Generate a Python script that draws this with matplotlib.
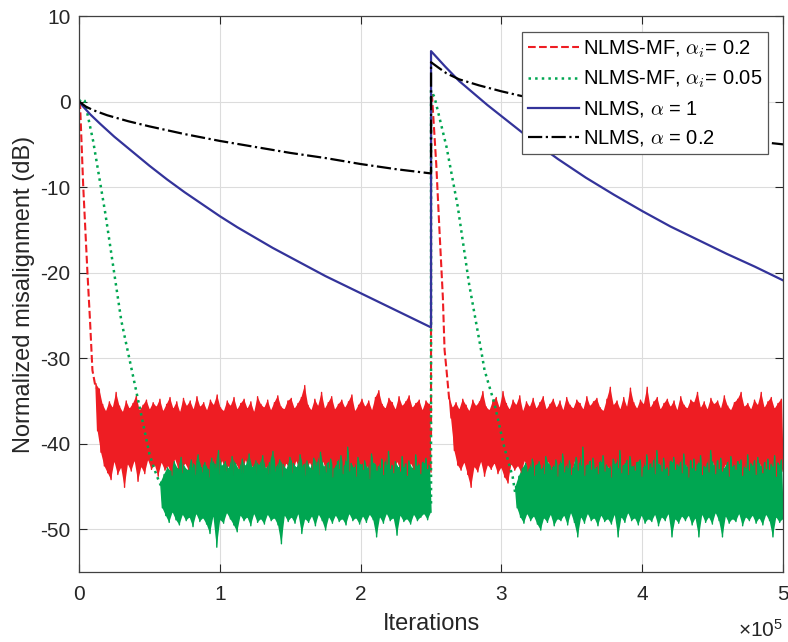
import numpy as np
import matplotlib
matplotlib.use('Agg')
import matplotlib.pyplot as plt

plt.rcParams['font.family'] = ['Liberation Sans', 'DejaVu Sans']
plt.rcParams['mathtext.fontset'] = 'cm'
plt.rcParams['axes.unicode_minus'] = False

# iterations in units of 1e5
# NLMS, alpha = 1 (solid blue)
nlms1_x = [0, 0.03, 0.08, 0.15, 0.25, 0.375, 0.5, 0.625, 0.75, 0.875, 1.0, 1.125,
           1.25, 1.375, 1.5, 1.625, 1.75, 1.875, 2.0, 2.125, 2.25, 2.375, 2.5,
           2.5, 2.55, 2.6, 2.7, 2.8, 2.9, 3.0, 3.2, 3.4, 3.6, 3.8, 4.0, 4.2, 4.4,
           4.6, 4.8, 5.0]
nlms1_y = [0, -0.6, -1.5, -2.6, -4.1, -5.8, -7.5, -9.1, -10.6, -12.0, -13.4, -14.7,
           -15.9, -17.1, -18.2, -19.3, -20.4, -21.4, -22.4, -23.4, -24.4, -25.4, -26.4,
           5.9, 5.0, 4.1, 2.4, 1.0, -0.4, -1.7, -4.3, -6.7, -8.9, -10.9, -12.8, -14.6,
           -16.2, -17.8, -19.3, -20.9]

# NLMS, alpha = 0.2 (black dash-dot)
nlms02_x = [0, 0.05, 0.1, 0.2, 0.35, 0.5, 0.75, 1.0, 1.25, 1.5, 1.75, 2.0, 2.25, 2.5,
            2.5, 2.55, 2.61, 2.7, 2.84, 3.0, 3.13, 3.5, 4.0, 4.5, 4.83, 5.0]
nlms02_y = [0, -0.6, -1.0, -1.6, -2.3, -2.9, -3.8, -4.6, -5.3, -6.0, -6.6, -7.3, -7.9, -8.4,
            4.6, 4.0, 3.3, 2.6, 1.9, 1.2, 0.7, -0.6, -2.2, -3.8, -4.7, -5.0]

# NLMS-MF, alpha_i = 0.2 (red dashed): transients
mf02_t1_x = [0, 0.007, 0.03, 0.06, 0.078, 0.095, 0.113, 0.12]
mf02_t1_y = [0, -0.2, -10.0, -20.1, -25.6, -31.4, -33.0, -33.5]
mf02_t2_x = [2.5, 2.5, 2.506, 2.537, 2.56, 2.584, 2.596, 2.61, 2.63]
mf02_t2_y = [-39.0, 0.9, 0.9, -7.3, -15.1, -22.9, -29.0, -31.4, -35.0]

# red steady-state noise: peaks (hi) and troughs (lo)
mf02_s1_range = (0.12, 2.5)
mf02_s1_hi = [-33.0, -33.6, -35.4, -36.2, -35.1, -35.8, -34.0, -35.6, -36.3, -35.0,
              -35.9, -35.3, -34.4, -36.1, -35.5, -34.9, -36.0, -35.2, -35.7, -34.8,
              -36.2, -35.4, -34.6, -35.9, -35.1, -36.3, -34.7, -35.6, -35.0, -36.0,
              -34.5, -35.7, -35.2, -36.1, -34.9, -35.5, -34.3, -35.8, -36.2, -35.0,
              -35.6, -34.6, -36.0, -35.3, -34.8, -35.9, -35.1, -36.3, -34.5, -35.4,
              -35.8, -34.9, -36.1, -35.2, -34.4, -35.7, -36.0, -35.0, -34.7, -35.9,
              -35.3, -34.6, -33.2, -35.5, -36.1, -34.8, -35.6, -34.0, -35.9, -35.2,
              -34.5, -36.0, -35.4, -34.9, -35.8, -35.1, -34.3, -36.2, -35.5, -34.8,
              -35.7, -35.0, -36.1, -34.6, -33.8, -35.4, -35.9, -34.7, -35.2, -36.0,
              -34.5, -35.6, -35.1, -34.4, -35.8, -35.3, -34.9, -36.1, -35.0, -35.4]
mf02_s1_lo = [-38.5, -41.0, -42.6, -43.4, -44.2, -42.1, -43.6, -42.8, -45.1, -42.4,
              -43.2, -42.0, -44.4, -42.7, -43.5, -41.9, -43.0, -42.5, -43.8, -42.2,
              -43.1, -42.6, -43.7, -41.8, -42.9, -43.4, -42.3, -43.0, -42.7, -43.6,
              -42.1, -43.3, -42.5, -43.9, -42.2, -42.8, -43.5, -42.0, -43.2, -42.6,
              -43.7, -42.3, -42.9, -43.4, -41.9, -43.1, -42.6, -44.0, -42.4, -43.0,
              -42.7, -43.5, -42.1, -43.2, -42.8, -43.8, -42.3, -42.9, -43.4, -42.0,
              -43.1, -42.6, -43.7, -42.2, -43.0, -42.5, -43.6, -42.1, -43.3, -42.8,
              -43.9, -42.4, -42.9, -43.5, -42.0, -43.2, -42.7, -43.8, -42.3, -43.0,
              -42.6, -44.1, -42.2, -43.1, -42.8, -43.6, -42.4, -42.9, -43.4, -42.1,
              -43.2, -42.7, -43.7, -42.3, -43.0, -42.5, -43.5, -42.2, -42.9, -43.3]
mf02_s2_range = (2.63, 5.0)
mf02_s2_hi = [-34.5, -35.8, -35.2, -36.0, -34.8, -35.5, -36.2, -34.9, -35.6, -35.1,
              -33.9, -35.7, -36.1, -35.0, -34.6, -35.8, -33.9, -35.3, -36.0, -34.9,
              -35.5, -34.4, -36.2, -35.1, -35.7, -34.7, -35.9, -35.2, -34.5, -36.0,
              -35.4, -34.8, -35.8, -35.0, -36.1, -34.6, -35.5, -35.9, -34.9, -35.3,
              -36.0, -34.5, -35.6, -35.1, -34.7, -35.8, -36.2, -34.8, -33.4, -35.5,
              -35.0, -36.0, -34.6, -35.7, -33.5, -35.2, -35.9, -34.9, -35.4, -33.4,
              -35.8, -35.1, -34.6, -36.0, -35.3, -34.8, -35.7, -35.0, -36.1, -34.5,
              -35.5, -35.9, -34.9, -35.2, -34.0, -35.8, -35.1, -36.0, -34.7, -35.4,
              -35.0, -35.9, -34.4, -35.6, -36.1, -35.2, -34.8, -34.0, -35.7, -35.3,
              -36.0, -34.9, -35.5, -34.0, -35.8, -35.1, -34.6, -35.9, -35.3, -34.8]
mf02_s2_lo = [-37.0, -40.8, -42.5, -43.1, -42.2, -43.6, -45.1, -42.7, -43.3, -42.1,
              -43.8, -42.5, -43.0, -42.3, -43.5, -42.8, -43.9, -44.6, -42.4, -43.1,
              -42.6, -43.4, -42.0, -43.2, -42.7, -43.7, -42.3, -42.9, -43.5, -42.1,
              -43.0, -42.6, -43.8, -42.2, -43.3, -42.8, -43.6, -42.0, -43.1, -42.5,
              -43.7, -42.4, -43.0, -42.9, -43.5, -42.1, -43.2, -42.7, -43.9, -42.3,
              -42.8, -43.4, -42.2, -43.6, -42.6, -43.1, -42.0, -43.8, -42.5, -43.0,
              -42.7, -43.5, -42.3, -43.2, -42.9, -43.7, -42.1, -43.0, -42.6, -43.4,
              -42.4, -43.9, -42.8, -43.1, -42.2, -43.6, -42.7, -43.3, -42.0, -43.5,
              -42.9, -43.2, -42.4, -43.8, -42.6, -43.0, -42.3, -43.7, -42.8, -43.1,
              -42.5, -43.6, -42.2, -43.4, -42.9, -43.0, -42.6, -43.8, -42.4, -43.2]

# NLMS-MF, alpha_i = 0.05 (green dotted): transients
mf005_t1_x = [0, 0.02, 0.04, 0.1, 0.187, 0.30, 0.385, 0.43, 0.50, 0.54, 0.57, 0.60]
mf005_t1_y = [0, 0.3, 0.1, -4.6, -13.1, -25.6, -32.2, -35.7, -41.2, -43.2, -44.5, -45.5]
mf005_t2_x = [2.5, 2.5, 2.525, 2.61, 2.69, 2.77, 2.856, 2.88, 2.95, 3.02, 3.08, 3.1]
mf005_t2_y = [-47.0, 1.3, 0.5, -5.3, -12.3, -21.3, -29.1, -31.4, -35.3, -40.4, -43.9, -46.0]

# green steady-state noise
mf005_s1_range = (0.58, 2.5)
mf005_s1_hi = [-44.5, -43.6, -42.8, -43.2, -42.1, -42.9, -41.6, -42.7, -43.1, -41.9,
               -42.5, -41.3, -42.8, -42.2, -43.0, -41.7, -42.4, -40.8, -42.6, -42.1,
               -42.9, -41.5, -42.3, -43.0, -41.8, -42.6, -41.2, -42.8, -42.0, -42.5,
               -41.4, -42.9, -42.2, -40.9, -42.7, -41.9, -42.4, -43.0, -41.6, -42.3,
               -42.8, -41.3, -42.5, -42.0, -42.9, -41.7, -42.2, -41.0, -42.7, -42.3,
               -41.8, -42.9, -42.1, -41.4, -42.6, -40.4, -42.3, -42.8, -41.6, -42.5,
               -42.0, -42.9, -41.2, -42.4, -42.7, -41.8, -42.2, -40.9, -42.6, -42.1,
               -42.8, -41.5, -42.4, -42.0, -42.9, -41.3, -42.5, -42.2, -41.7, -42.6]
mf005_s1_lo = [-47.5, -48.4, -49.2, -48.0, -48.9, -49.5, -48.3, -49.0, -48.6, -49.7,
               -48.2, -49.1, -48.7, -49.4, -50.5, -48.5, -52.1, -48.9, -49.3, -48.1,
               -48.8, -49.5, -50.3, -48.4, -49.0, -48.6, -49.6, -48.2, -49.2, -48.8,
               -49.4, -48.3, -49.0, -48.7, -49.5, -51.7, -48.4, -49.1, -48.6, -49.3,
               -48.2, -50.5, -48.8, -49.2, -48.5, -49.6, -48.3, -49.0, -50.1, -48.6,
               -49.3, -48.4, -49.1, -48.8, -49.5, -48.2, -49.0, -48.7, -49.4, -48.5,
               -49.2, -48.3, -48.9, -50.9, -48.6, -49.3, -48.2, -49.0, -48.7, -50.7,
               -48.4, -49.1, -48.8, -49.4, -48.3, -49.0, -48.6, -48.2, -48.9, -48.0]
mf005_s2_range = (3.1, 5.0)
mf005_s2_hi = [-45.0, -43.8, -42.9, -42.3, -43.0, -41.8, -42.6, -42.1, -42.9, -41.5,
               -42.4, -42.8, -41.9, -42.5, -41.2, -42.7, -42.0, -42.9, -41.6, -42.3,
               -40.4, -42.6, -42.1, -41.7, -42.8, -42.2, -41.4, -42.5, -42.9, -41.8,
               -42.3, -40.8, -42.6, -42.0, -41.5, -42.7, -42.2, -41.9, -42.8, -41.3,
               -42.4, -42.0, -40.8, -42.6, -41.7, -42.9, -42.1, -41.6, -42.5, -42.2,
               -41.2, -42.8, -42.0, -41.8, -42.5, -41.4, -42.7, -42.3, -40.8, -42.6,
               -42.0, -41.7, -42.9, -42.2, -41.5, -42.6, -42.1, -41.9, -42.8, -41.3,
               -42.4, -42.0, -41.6, -42.7, -42.2, -41.8, -42.5, -41.4, -42.3, -41.9]
mf005_s2_lo = [-47.5, -48.6, -49.3, -48.2, -49.0, -48.5, -49.4, -50.1, -48.7, -49.2,
               -48.3, -49.6, -48.8, -49.0, -48.4, -49.5, -48.1, -49.2, -50.9, -48.6,
               -49.3, -48.2, -49.0, -48.7, -49.6, -48.4, -49.1, -48.8, -49.4, -48.3,
               -50.9, -48.6, -49.2, -48.1, -49.0, -48.7, -49.5, -48.4, -49.3, -48.8,
               -49.1, -48.3, -49.6, -48.6, -49.0, -48.2, -50.9, -48.8, -49.3, -48.5,
               -49.0, -48.4, -49.5, -48.7, -50.9, -48.3, -49.2, -48.6, -49.4, -48.1,
               -49.0, -50.9, -48.5, -49.3, -48.8, -49.1, -48.2, -49.6, -48.6, -49.0,
               -48.4, -49.3, -48.7, -49.5, -48.3, -49.0, -50.9, -48.6, -49.2, -48.8]

labels = ['NLMS-MF, $\\alpha_i$= 0.2', 'NLMS-MF, $\\alpha_i$= 0.05',
          'NLMS, $\\alpha$ = 1', 'NLMS, $\\alpha$ = 0.2']
red = '#EE1D23'
green = '#00A651'
blue = '#33339A'
scale = 1e5


def noise(ax, rng, hi, lo, color):
    n = min(len(hi), len(lo))
    xs = np.linspace(rng[0], rng[1], 2 * n) * scale
    hi = np.asarray(hi[:n])
    lo = np.asarray(lo[:n])
    # ragged filled band between peaks and troughs
    ax.fill(np.r_[xs[0::2], xs[1::2][::-1]], np.r_[hi, lo[::-1]], color=color, lw=0)
    # the same peaks and troughs as one zigzag trace
    ys = np.empty(2 * n)
    ys[0::2] = hi
    ys[1::2] = lo
    ax.plot(xs, ys, '-', color=color, lw=1.0)


fig = plt.figure(figsize=(7.88, 6.42), dpi=100)
ax = fig.add_axes([0.1003, 0.109, 0.8934, 0.866])

noise(ax, mf02_s1_range, mf02_s1_hi, mf02_s1_lo, red)
noise(ax, mf02_s2_range, mf02_s2_hi, mf02_s2_lo, red)
h1, = ax.plot(np.array(mf02_t1_x) * scale, mf02_t1_y, '--', color=red, lw=1.5,
              label=labels[0])
ax.plot(np.array(mf02_t2_x) * scale, mf02_t2_y, '--', color=red, lw=1.5)

noise(ax, mf005_s1_range, mf005_s1_hi, mf005_s1_lo, green)
noise(ax, mf005_s2_range, mf005_s2_hi, mf005_s2_lo, green)
h2, = ax.plot(np.array(mf005_t1_x) * scale, mf005_t1_y, ':', color=green, lw=1.8,
              label=labels[1])
ax.plot(np.array(mf005_t2_x) * scale, mf005_t2_y, ':', color=green, lw=1.8)

h3, = ax.plot(np.array(nlms1_x) * scale, nlms1_y, '-', color=blue, lw=1.6,
              label=labels[2])
h4, = ax.plot(np.array(nlms02_x) * scale, nlms02_y, '-.', color='black', lw=1.6,
              label=labels[3])

ax.set_xlim(0, 5e5)
ax.set_ylim(-55, 10)
ax.set_xticks(np.arange(0, 6) * scale)
ax.set_xticklabels(['0', '1', '2', '3', '4', '5'])
ax.set_yticks([-50, -40, -30, -20, -10, 0, 10])
ax.grid(True, color='#dcdcdc', lw=0.8)
ax.set_axisbelow(True)
ax.tick_params(direction='in', top=True, right=True, length=6, width=0.8,
               labelsize=15, colors='#262626')
ax.tick_params(axis='x', pad=9)
ax.tick_params(axis='y', pad=6)
for s in ax.spines.values():
    s.set_color('#404040')
    s.set_linewidth(0.9)

ax.set_xlabel('Iterations', fontsize=17, color='#262626', labelpad=7)
ax.set_ylabel('Normalized misalignment (dB)', fontsize=17, color='#262626',
              labelpad=4)
fig.text(0.994, 0.008, '$\\mathregular{\\times10^{5}}$', ha='right', va='baseline',
         fontsize=15, color='#262626')

leg = ax.legend(handles=[h1, h2, h3, h4], loc='upper right',
                bbox_to_anchor=(0.979, 0.971), borderaxespad=0, fontsize=14.5,
                handlelength=2.5, handletextpad=0.2, borderpad=0.3,
                labelspacing=0.45, fancybox=False, framealpha=1)
leg.get_frame().set_edgecolor('#555555')
leg.get_frame().set_linewidth(0.9)

fig.savefig('out.png', dpi=100)
